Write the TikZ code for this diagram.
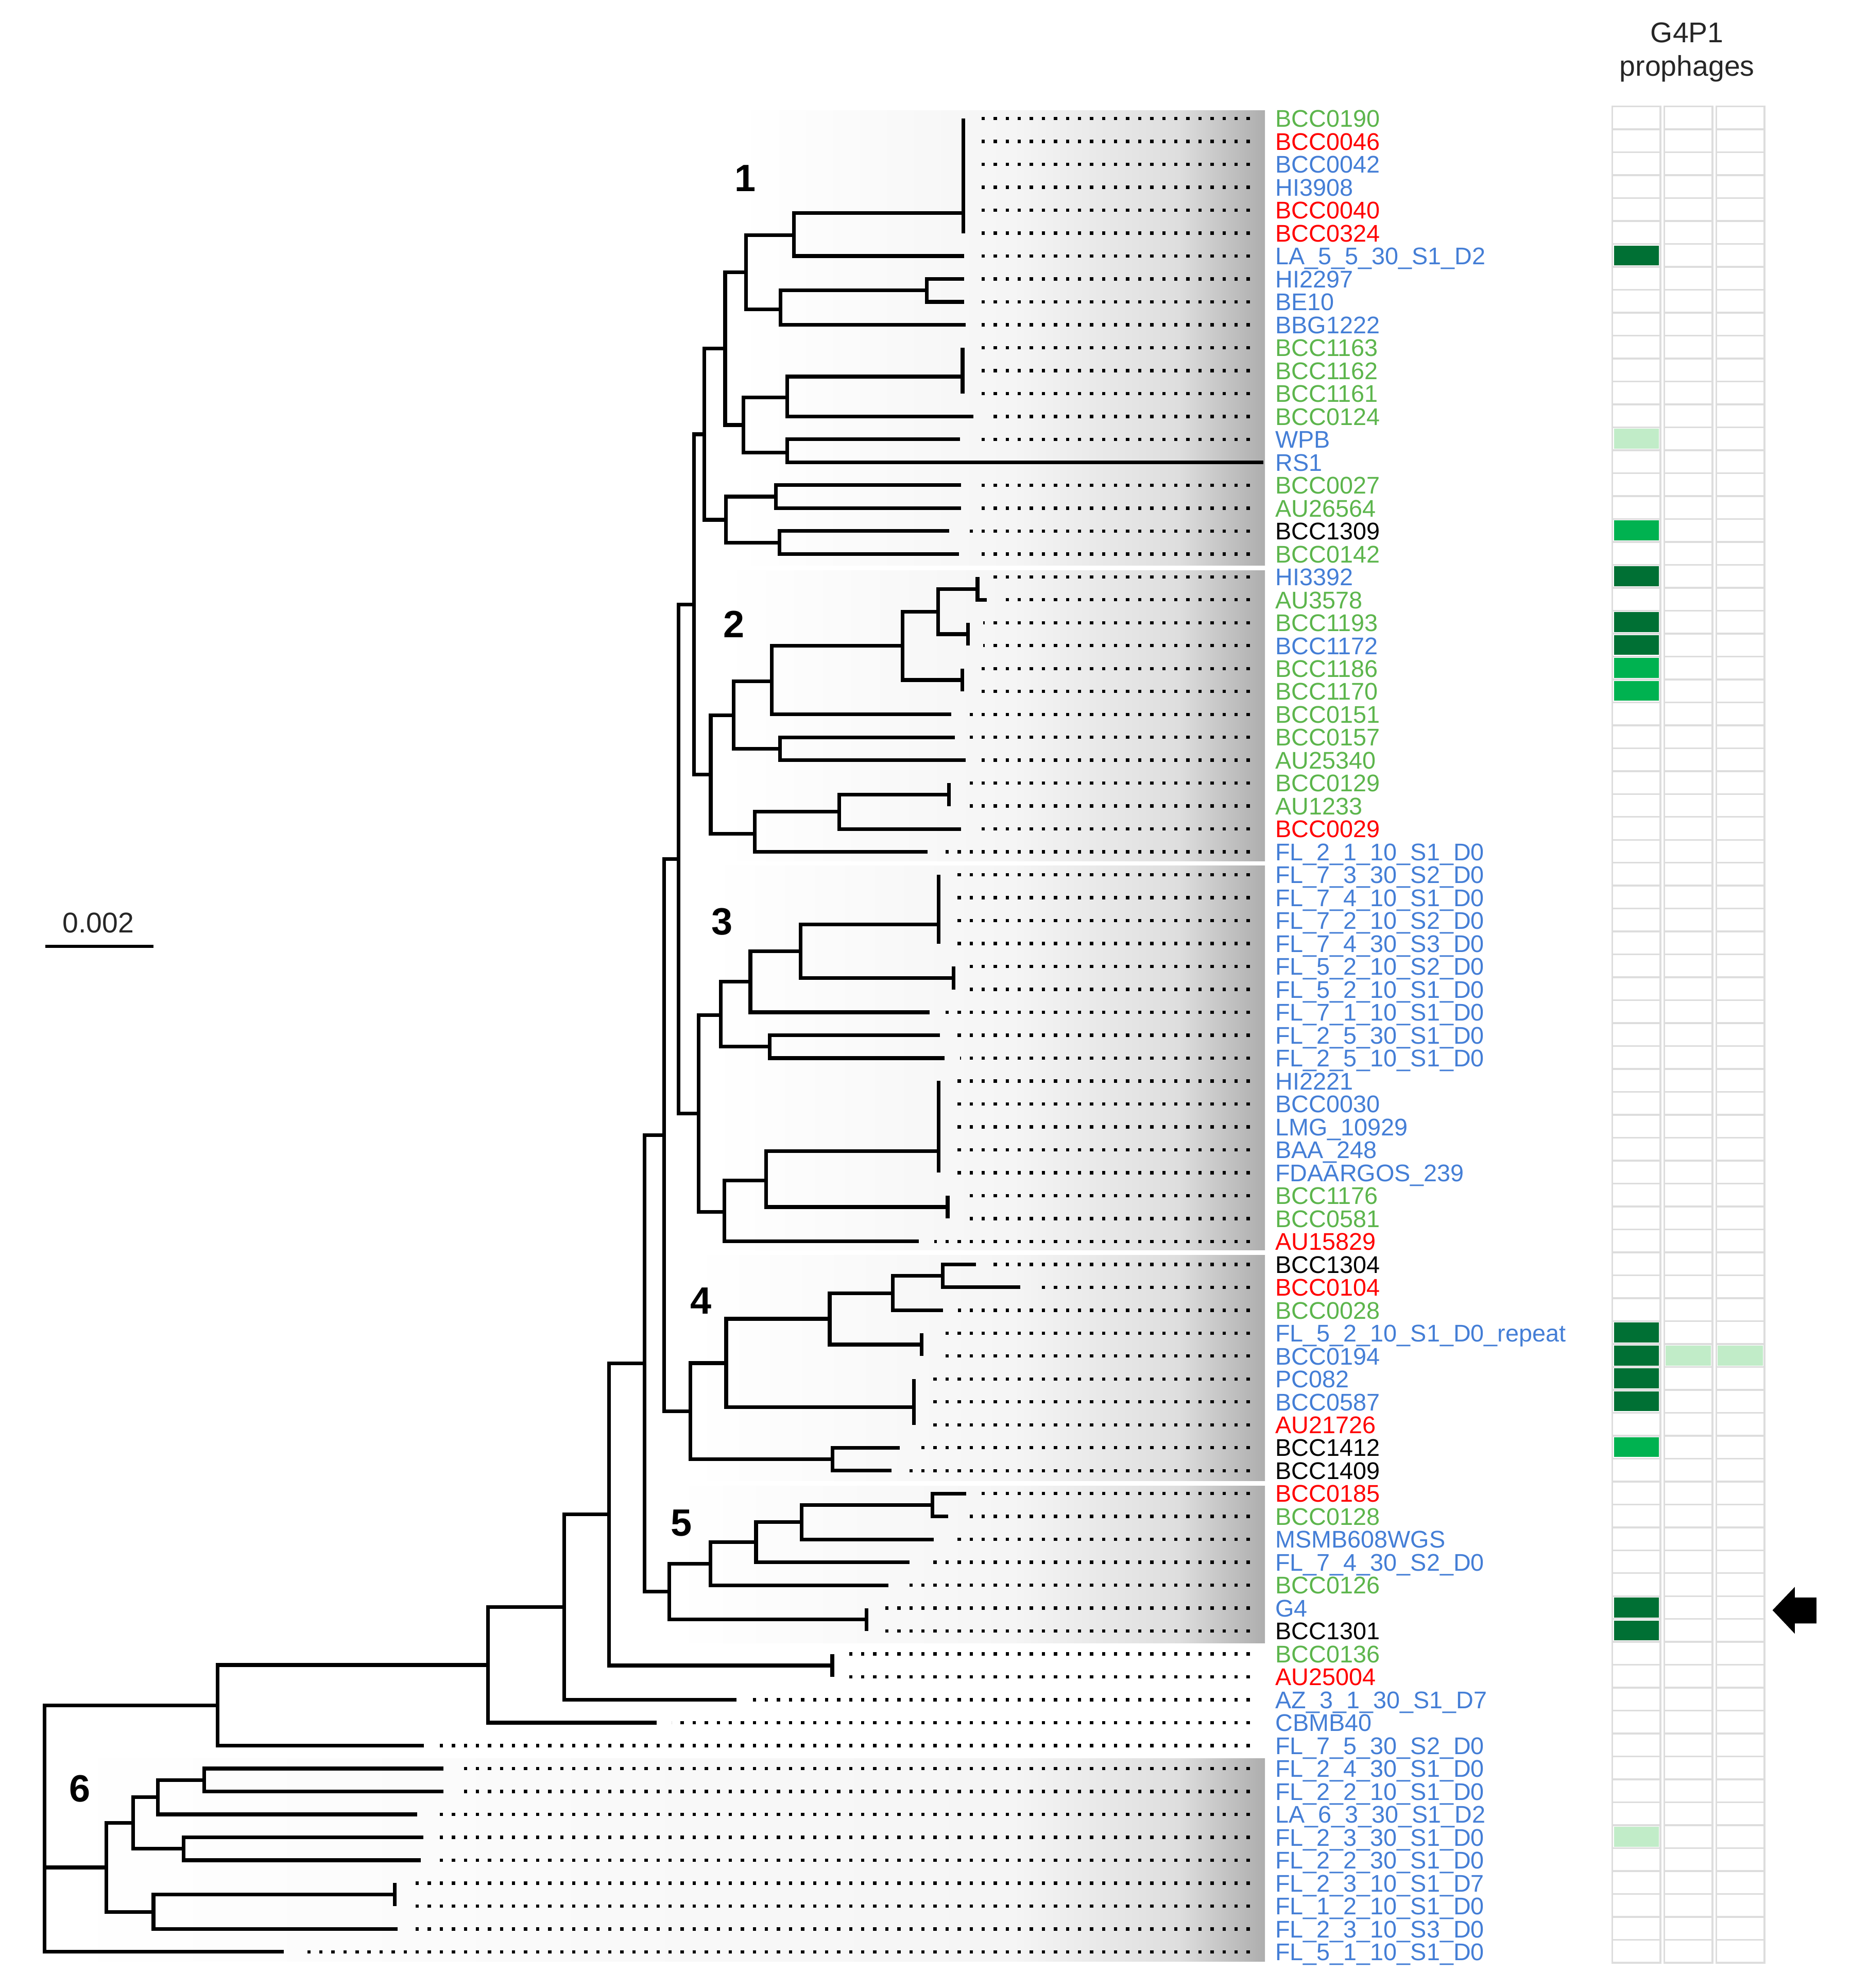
\documentclass[tikz,border=0pt]{standalone}
\usepackage{fontspec}
\setmainfont{Liberation Sans}
\definecolor{cblue}{RGB}{68,126,214}
\definecolor{cgreen}{RGB}{92,181,76}
\definecolor{cred}{RGB}{255,0,0}
\definecolor{hdark}{RGB}{0,112,52}
\definecolor{hmid}{RGB}{0,178,80}
\definecolor{hlight}{RGB}{193,236,200}
\definecolor{gridc}{RGB}{221,221,221}
\newcommand\cladebox[3]{%
  \shade[left color=white, right color=black!4] (#1,#2) rectangle (800.5,#3);
  \shade[left color=black!4, right color=black!13] (800,#2) rectangle (930.5,#3);
  \shade[left color=black!13, right color=black!32] (930,#2) rectangle (998,#3);}
\newcommand\hcell[3]{\fill[#3] ({#1+1.2},{84+(#2-1)*18.075+1.2}) rectangle ++(35.6,15.7);}
\begin{document}
\begin{tikzpicture}[x=1pt,y=-1pt,
  branch/.style={line width=2.9pt, line join=miter},
  dotline/.style={line width=2.6pt, dash pattern=on 2.6pt off 6.9pt},
  lab/.style={inner sep=0pt, anchor=base west, font=\fontsize{19}{19}\selectfont},
  cell/.style={draw=gridc, line width=1.4pt},
  cladenum/.style={inner sep=0pt, anchor=base, font=\fontsize{30}{30}\selectfont\bfseries}]
\useasboundingbox (0,0) rectangle (1460,1568);
% clade shading
\cladebox{582}{87}{446}
\cladebox{570}{450}{679}
\cladebox{560}{683}{986}
\cladebox{545}{990}{1168}
\cladebox{530}{1172}{1296}
\cladebox{40}{1387}{1547}
% tips
\foreach \k/\x in {1/760,2/760,3/760,4/760,5/760,6/760,7/760.8,8/760.8,9/760.8,10/761.9,
  11/759.4,12/759.4,13/759.4,14/768,15/757.2,16/996.8,17/758,18/758,19/748.8,20/756.5,
  21/771.2,22/778.7,23/763.7,24/763.7,25/759.2,26/759.2,27/750.6,28/753.2,29/761.8,30/748.7,
  31/748.7,32/758.1,33/731.8,34/740.6,35/740.6,36/740.6,37/740.6,38/752.3,39/752.3,40/733.6,
  41/741.4,42/745.3,43/740.6,44/740.6,45/740.6,46/740.6,47/740.6,48/747.6,49/747.6,50/725,
  51/769.9,52/804.8,53/743.8,54/727.2,55/727.2,56/721,57/721,58/721,59/709.8,60/703.5,
  61/762.4,62/748,63/736.7,64/717.6,65/701,66/683.6,67/683.6,68/656.6,69/656.6,70/581,
  71/518,72/334.6,73/350,74/350,75/329,76/333.9,77/331.8,78/311.5,79/311.5,80/313.6,81/224}
  \coordinate (t\k) at (\x,{93.5+(\k-1)*18.075});
% internal nodes
\foreach \nm/\x/\y in {P1/760/168,N1a/626.5/185.5,HB/731/229,N1c/615.6/244,N1b/588.4/214.7,
  P2/759.4/297,N1h/621.1/313.5,WR/621.1/357,N1e/586.6/335.2,N1d/572.1/275,BA/612/391.7,
  BB/614.9/428,N1g/572.8/410,N1f/555.7/342.5,H2/771.2/464.7,B2/763.7/500.2,N2d/740/482.5,
  B3/759.2/536.35,N2c/712.2/509.4,N2b/608.8/537.5,N2e/615.2/590.5,N2a/578.8/564,
  B4/748.7/626.7,N2g/662.2/640.3,N2f/595.3/657.5,N2r/560.7/610.8,C12/547.6/476.7,
  P3/740.6/729,B5/752.3/771.3,N3c/631.7/750.2,N3b/592/774.3,N3d/607.2/825.5,N3a/568.7/800.5,
  P4/740.6/908,B6/747.6/952,N3f/604.5/931,N3e/571.4/956,N3r/551.2/878.2,X/535.2/677.4,
  B7/743.8/1006.3,N4c/704.4/1019.9,B8/727.2/1060.5,N4b/654.6/1040.2,P5/721/1110,
  N4a/572.9/1075.1,B9/656.7/1150.9,N4r/544.7/1113,Y/524/895.2,B10/735.5/1187,
  N5c/632.6/1200.6,N5b/596.5/1216.4,N5a/560.4/1233.4,B11/683.6/1277.4,N5r/528.1/1255.4,
  Z/508.6/1075.3,B12/656.6/1313.6,W/480.4/1194.5,V/445.2/1267.6,U/385/1313.2,Q/171.5/1345,
  B13/161/1404,N6c/124.6/1417.5,B14/144.9/1458.2,N6b/105/1437.9,B15/311.5/1494.3,
  N6d/121.1/1507.9,N6a/84/1472.9,R/35/1442}
  \coordinate (\nm) at (\x,\y);
% dotted leaders
\coordinate (dotend) at (986,0);
\foreach \k in {1,...,15,17,18,...,81}
  \draw[dotline] (t\k -| dotend) -- ([xshift=12pt]t\k);
% branches (elbow)
\foreach \p/\c in {N1a/P1,N1a/t7,HB/t8,HB/t9,N1c/HB,N1c/t10,N1b/N1a,N1b/N1c,N1h/P2,N1h/t14,
  WR/t15,WR/t16,N1e/N1h,N1e/WR,N1d/N1b,N1d/N1e,BA/t17,BA/t18,BB/t19,BB/t20,N1g/BA,N1g/BB,
  N1f/N1d,N1f/N1g,H2/t22,N2d/H2,N2d/B2,N2c/N2d,N2c/B3,N2b/N2c,N2b/t27,N2e/t28,N2e/t29,
  N2a/N2b,N2a/N2e,N2g/B4,N2g/t32,N2f/N2g,N2f/t33,N2r/N2a,N2r/N2f,C12/N1f,C12/N2r,
  N3c/P3,N3c/B5,N3b/N3c,N3b/t40,N3d/t41,N3d/t42,N3a/N3b,N3a/N3d,N3f/P4,N3f/B6,N3e/N3f,
  N3e/t50,N3r/N3a,N3r/N3e,X/C12,X/N3r,B7/t51,B7/t52,N4c/B7,N4c/t53,N4b/N4c,N4b/B8,
  N4a/N4b,N4a/P5,B9/t59,B9/t60,N4r/N4a,N4r/B9,Y/X,Y/N4r,B10/t61,B10/t62,N5c/B10,N5c/t63,
  N5b/N5c,N5b/t64,N5a/N5b,N5a/t65,N5r/N5a,N5r/B11,Z/Y,Z/N5r,W/Z,W/B12,V/W,V/t70,U/V,U/t71,
  Q/U,Q/t72,B13/t73,B13/t74,N6c/B13,N6c/t75,B14/t76,B14/t77,N6b/N6c,N6b/B14,N6d/B15,
  N6d/t80,N6a/N6b,N6a/N6d,R/Q,R/N6a,R/t81}
  \draw[branch] (\p) |- (\c);
% branches (zero-length tips)
\foreach \p/\c in {P1/t1,P1/t2,P1/t3,P1/t4,P1/t5,P1/t6,P2/t11,P2/t12,P2/t13,H2/t21,
  B2/t23,B2/t24,B3/t25,B3/t26,B4/t30,B4/t31,P3/t34,P3/t35,P3/t36,P3/t37,B5/t38,B5/t39,
  P4/t43,P4/t44,P4/t45,P4/t46,P4/t47,B6/t48,B6/t49,B8/t54,B8/t55,P5/t56,P5/t57,P5/t58,
  B11/t66,B11/t67,B12/t68,B12/t69,B15/t78,B15/t79}
  \draw[branch] (\p) -- (\c);
% labels
\foreach \k/\nm/\cl in {1/BCC0190/cgreen,2/BCC0046/cred,3/BCC0042/cblue,4/HI3908/cblue,
  5/BCC0040/cred,6/BCC0324/cred,7/LA\_5\_5\_30\_S1\_D2/cblue,8/HI2297/cblue,9/BE10/cblue,
  10/BBG1222/cblue,11/BCC1163/cgreen,12/BCC1162/cgreen,13/BCC1161/cgreen,14/BCC0124/cgreen,
  15/WPB/cblue,16/RS1/cblue,17/BCC0027/cgreen,18/AU26564/cgreen,19/BCC1309/black,
  20/BCC0142/cgreen,21/HI3392/cblue,22/AU3578/cgreen,23/BCC1193/cgreen,24/BCC1172/cblue,
  25/BCC1186/cgreen,26/BCC1170/cgreen,27/BCC0151/cgreen,28/BCC0157/cgreen,29/AU25340/cgreen,
  30/BCC0129/cgreen,31/AU1233/cgreen,32/BCC0029/cred,33/FL\_2\_1\_10\_S1\_D0/cblue,
  34/FL\_7\_3\_30\_S2\_D0/cblue,35/FL\_7\_4\_10\_S1\_D0/cblue,36/FL\_7\_2\_10\_S2\_D0/cblue,
  37/FL\_7\_4\_30\_S3\_D0/cblue,38/FL\_5\_2\_10\_S2\_D0/cblue,39/FL\_5\_2\_10\_S1\_D0/cblue,
  40/FL\_7\_1\_10\_S1\_D0/cblue,41/FL\_2\_5\_30\_S1\_D0/cblue,42/FL\_2\_5\_10\_S1\_D0/cblue,
  43/HI2221/cblue,44/BCC0030/cblue,45/LMG\_10929/cblue,46/BAA\_248/cblue,
  47/FDAARGOS\_239/cblue,48/BCC1176/cgreen,49/BCC0581/cgreen,50/AU15829/cred,
  51/BCC1304/black,52/BCC0104/cred,53/BCC0028/cgreen,54/FL\_5\_2\_10\_S1\_D0\_repeat/cblue,
  55/BCC0194/cblue,56/PC082/cblue,57/BCC0587/cblue,58/AU21726/cred,59/BCC1412/black,
  60/BCC1409/black,61/BCC0185/cred,62/BCC0128/cgreen,63/MSMB608WGS/cblue,
  64/FL\_7\_4\_30\_S2\_D0/cblue,65/BCC0126/cgreen,66/G4/cblue,67/BCC1301/black,
  68/BCC0136/cgreen,69/AU25004/cred,70/AZ\_3\_1\_30\_S1\_D7/cblue,71/CBMB40/cblue,
  72/FL\_7\_5\_30\_S2\_D0/cblue,73/FL\_2\_4\_30\_S1\_D0/cblue,74/FL\_2\_2\_10\_S1\_D0/cblue,
  75/LA\_6\_3\_30\_S1\_D2/cblue,76/FL\_2\_3\_30\_S1\_D0/cblue,77/FL\_2\_2\_30\_S1\_D0/cblue,
  78/FL\_2\_3\_10\_S1\_D7/cblue,79/FL\_1\_2\_10\_S1\_D0/cblue,80/FL\_2\_3\_10\_S3\_D0/cblue,
  81/FL\_5\_1\_10\_S1\_D0/cblue}
  \node[lab, text=\cl] (L\k) at (1006,{93.5+(\k-1)*18.075+6.8}) {\nm};
% clade numbers
\node[cladenum] (c1) at (588,151) {1};
\node[cladenum] (c2) at (579,502.8) {2};
\node[cladenum] (c3) at (569.5,737.2) {3};
\node[cladenum] (c4) at (553,1036.3) {4};
\node[cladenum] (c5) at (537.6,1211.5) {5};
\node[cladenum] (c6) at (63,1421.2) {6};
% scale bar
\coordinate (sbA) at (35.9,746.3);
\coordinate (sbB) at (120.9,746.3);
\draw[line width=2.6pt] (sbA) -- (sbB);
\node[inner sep=0pt, anchor=base, font=\fontsize{22.5}{22.5}\selectfont, text=black!85] (sbt) at (77.6,735.8) {0.002};
% heatmap header
\node[inner sep=0pt, anchor=base, font=\fontsize{22.5}{22.5}\selectfont, text=black!85] (h1) at (1331,33.4) {G4P1};
\node[inner sep=0pt, anchor=base, font=\fontsize{22.5}{22.5}\selectfont, text=black!85] (h2) at (1331,59.9) {prophages};
% heatmap grid
\foreach \cx in {1272,1313,1354}{
  \foreach \k in {1,...,81}{
    \draw[cell] (\cx,{84+(\k-1)*18.075}) rectangle ++(38,18.075);}}
\hcell{1272}{7}{hdark}
\hcell{1272}{15}{hlight}
\hcell{1272}{19}{hmid}
\hcell{1272}{21}{hdark}
\hcell{1272}{23}{hdark}
\hcell{1272}{24}{hdark}
\hcell{1272}{25}{hmid}
\hcell{1272}{26}{hmid}
\hcell{1272}{54}{hdark}
\hcell{1272}{55}{hdark}
\hcell{1313}{55}{hlight}
\hcell{1354}{55}{hlight}
\hcell{1272}{56}{hdark}
\hcell{1272}{57}{hdark}
\hcell{1272}{59}{hmid}
\hcell{1272}{66}{hdark}
\hcell{1272}{67}{hdark}
\hcell{1272}{76}{hlight}
% arrow
\fill[black] (1398.4,1270) -- (1416,1251.6) -- (1416,1260) -- (1433,1260) -- (1433,1280.5)
  -- (1416,1280.5) -- (1416,1288.6) -- cycle;
\end{tikzpicture}
\end{document}
